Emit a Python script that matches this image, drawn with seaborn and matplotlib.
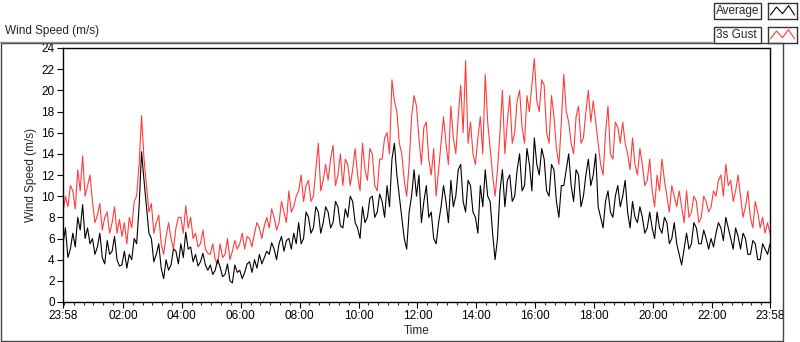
import numpy as np
import pandas as pd
import matplotlib
matplotlib.use("Agg")
import matplotlib.pyplot as plt
import matplotlib.dates as mdates
from matplotlib.patches import Rectangle
import seaborn as sns

# 5-minute readings from 23:58 to 23:58 next day, one row per hour
avg_speed = [
    5.5, 7.0, 4.2, 5.0, 6.5, 5.2, 8.0, 6.8, 9.2, 6.0, 7.0, 5.5,
    6.0, 4.5, 5.2, 6.5, 4.2, 3.6, 5.8, 4.5, 4.8, 6.2, 4.0, 3.4,
    3.5, 4.8, 3.2, 4.5, 4.0, 6.0, 5.5, 9.0, 14.2, 11.5, 9.0, 6.5,
    6.0, 3.8, 4.5, 5.5, 3.2, 2.2, 4.0, 3.0, 3.5, 5.0, 4.8, 3.6,
    5.5, 4.2, 6.6, 5.0, 5.2, 3.8, 4.5, 3.4, 3.8, 4.6, 3.5, 3.0,
    3.5, 2.6, 3.0, 4.0, 3.3, 2.4, 2.6, 3.6, 2.0, 1.8, 3.5, 2.8,
    3.0, 2.2, 2.8, 3.6, 3.8, 2.8, 4.0, 3.2, 4.5, 3.6, 4.2, 4.8,
    4.5, 5.6, 5.0, 4.0, 5.5, 6.2, 4.8, 5.8, 6.0, 5.0, 6.5, 5.5,
    7.5, 5.5, 6.0, 8.5, 8.0, 6.5, 7.0, 9.0, 8.5, 6.5, 7.5, 9.0,
    8.5, 7.0, 7.5, 9.5, 9.0, 7.2, 7.0, 8.8, 8.0, 10.0, 9.5, 7.5,
    7.0, 6.0, 9.0, 7.5, 8.0, 9.8, 10.0, 8.0, 8.5, 10.2, 9.5, 8.0,
    11.0, 9.0, 13.5, 15.0, 12.0, 10.0, 8.0, 6.0, 5.0, 8.5, 10.0, 12.5,
    10.0, 12.0, 7.5, 9.5, 11.0, 8.0, 8.5, 6.0, 5.5, 7.5, 9.0, 11.0,
    9.5, 7.5, 11.5, 9.0, 10.0, 12.5, 13.0, 9.5, 8.5, 11.5, 11.0, 8.5,
    8.0, 6.5, 11.0, 9.0, 12.5, 10.0, 9.5, 6.5, 4.0, 6.0, 10.5, 12.5,
    9.0, 11.5, 12.0, 9.5, 10.0, 12.5, 14.0, 10.5, 11.0, 14.5, 13.0, 10.5,
    15.5, 13.0, 12.0, 14.5, 13.5, 10.5, 10.0, 13.0, 12.5, 9.5, 8.0, 11.0,
    11.0, 12.5, 14.0, 11.0, 9.5, 12.5, 12.0, 9.0, 10.0, 12.0, 13.5, 11.0,
    12.0, 14.0, 9.0, 8.0, 7.0, 9.5, 10.5, 8.5, 8.0, 10.0, 11.0, 9.0,
    10.0, 11.5, 8.5, 7.0, 9.5, 8.0, 7.5, 9.0, 8.0, 6.5, 7.0, 8.5,
    7.0, 6.0, 8.5, 7.0, 6.5, 8.0, 7.5, 5.5, 6.0, 7.5, 5.5, 4.5,
    3.5, 5.0, 6.5, 5.0, 5.5, 7.5, 7.0, 5.5, 5.5, 6.8, 6.0, 5.0,
    6.0, 5.2, 6.5, 7.5, 7.0, 5.8, 8.0, 7.0, 6.0, 5.0, 7.0, 6.2,
    5.0, 6.5, 6.0, 4.5, 4.5, 5.8, 5.5, 4.0, 4.0, 5.5, 5.0, 4.5,
    5.5,
]
gust_speed = [
    8.5, 10.0, 9.0, 11.0, 10.5, 8.8, 12.5, 10.5, 13.8, 10.0, 11.0, 12.0,
    9.5, 7.5, 8.2, 9.3, 6.8, 8.0, 8.5, 6.5, 7.5, 9.0, 6.5, 7.8,
    6.2, 7.5, 5.5, 8.0, 7.0, 9.5, 10.0, 13.0, 17.6, 13.5, 11.0, 8.5,
    9.3, 6.5, 7.5, 8.2, 5.5, 4.5, 6.2, 7.5, 6.0, 5.0, 7.0, 8.0,
    8.0, 6.5, 9.1, 7.0, 8.0, 6.0, 6.5, 5.2, 5.5, 6.8, 5.0, 4.6,
    4.5, 5.5, 4.0, 3.6, 5.5, 4.2, 4.5, 6.0, 4.0, 4.8, 5.8, 5.0,
    5.5, 6.5, 5.0, 6.2, 6.0, 5.2, 6.5, 7.5, 7.0, 6.0, 7.2, 8.0,
    7.0, 8.8, 8.0, 6.8, 7.5, 9.5, 8.5, 7.5, 10.5, 8.5, 9.0, 10.0,
    10.5, 12.0, 9.5, 11.0, 11.5, 9.5, 10.0, 12.5, 15.0, 10.5, 11.5, 13.0,
    11.5, 13.5, 14.8, 11.0, 12.0, 14.0, 11.0, 13.5, 13.0, 11.0, 12.5, 14.5,
    12.0, 10.5, 15.0, 12.5, 11.5, 14.5, 14.0, 11.0, 10.5, 13.5, 13.5, 15.5,
    16.0, 14.0, 21.0, 19.0, 18.0, 15.0, 14.0, 11.5, 10.0, 13.0, 17.5, 19.5,
    18.5, 15.5, 13.0, 16.5, 17.0, 13.5, 12.0, 14.5, 10.0, 12.5, 15.0, 17.5,
    15.0, 13.0, 18.5, 15.5, 14.0, 17.5, 20.5, 16.0, 22.8, 15.0, 17.0, 14.0,
    13.0, 15.5, 17.5, 14.0, 21.5, 17.0, 14.5, 12.0, 10.0, 12.5, 16.0, 20.0,
    14.0, 17.0, 19.5, 15.0, 16.0, 19.0, 20.0, 16.5, 15.0, 19.5, 18.0, 20.5,
    23.0, 19.0, 18.0, 21.0, 20.5, 16.0, 15.0, 19.5, 17.5, 14.5, 13.0, 17.0,
    21.5, 18.0, 17.0, 15.0, 14.0, 17.5, 18.5, 15.0, 15.5, 18.0, 20.0, 17.0,
    19.0, 17.0, 15.0, 13.0, 12.0, 16.0, 18.5, 14.0, 13.5, 17.0, 16.5, 15.0,
    17.0, 15.0, 14.0, 12.5, 15.5, 13.0, 12.0, 14.5, 13.0, 11.0, 11.5, 13.5,
    10.5, 9.0, 12.0, 10.5, 13.5, 11.5, 10.0, 8.5, 11.0, 10.0, 9.0, 10.5,
    9.0, 7.5, 10.5, 8.0, 8.5, 10.0, 9.5, 7.5, 8.0, 10.0, 9.5, 8.5,
    9.0, 10.5, 10.0, 11.5, 12.0, 10.0, 13.0, 11.0, 11.5, 9.5, 10.5, 12.0,
    10.0, 8.0, 9.0, 10.5, 8.0, 7.0, 9.5, 8.5, 7.0, 8.0, 6.5, 7.5,
    6.5,
]
start_time = "2015-06-01 23:58"
tick_times = ["2015-06-01 23:58", "2015-06-02 02:00", "2015-06-02 04:00",
              "2015-06-02 06:00", "2015-06-02 08:00", "2015-06-02 10:00",
              "2015-06-02 12:00", "2015-06-02 14:00", "2015-06-02 16:00",
              "2015-06-02 18:00", "2015-06-02 20:00", "2015-06-02 22:00",
              "2015-06-02 23:58"]
series_names = ["Average", "3s Gust"]
series_colors = ["black", "#ff3b3b"]

df = pd.DataFrame({
    "time": pd.date_range(start_time, periods=len(avg_speed), freq="5min"),
    "avg": avg_speed,
    "gust": gust_speed,
})

sns.set_style("white")
plt.rcParams["font.family"] = ["Liberation Sans", "DejaVu Sans"]

fig = plt.figure(figsize=(8, 3.42), dpi=100)
ax = fig.add_axes([63 / 800, 1 - 302 / 342, 707 / 800, 254 / 342])

sns.lineplot(data=df, x="time", y="gust", color=series_colors[1], lw=0.8, ax=ax)
sns.lineplot(data=df, x="time", y="avg", color=series_colors[0], lw=0.8, ax=ax)

ticks = pd.to_datetime(tick_times)
ax.set_xlim(ticks[0], ticks[-1])
ax.set_ylim(0, 24)
ax.xaxis.set_major_locator(matplotlib.ticker.FixedLocator(mdates.date2num(ticks)))
ax.xaxis.set_major_formatter(mdates.DateFormatter("%H:%M"))
ax.xaxis.set_minor_locator(mdates.MinuteLocator(byminute=[0, 20, 40]))
ax.set_yticks(np.arange(0, 25, 2))
ax.tick_params(axis="both", which="major", direction="out", length=4, width=0.8,
               labelsize=8.5, pad=2, colors="black")
ax.tick_params(axis="x", which="minor", direction="out", length=2.5, width=0.8)
ax.tick_params(bottom=True, left=True, which="both")
ax.set_xlabel("Time", fontsize=8.5, labelpad=2)
ax.set_ylabel("Wind Speed (m/s)", fontsize=8.5, labelpad=3)
for s in ax.spines.values():
    s.set_color("black")
    s.set_linewidth(1)

# outer panel frame and title
fig.add_artist(Rectangle((0.5 / 800, 1.5 / 342), 782 / 800, 298 / 342,
                         transform=fig.transFigure, fill=False, ec="#444444", lw=1))
fig.add_artist(plt.Line2D([0, 712 / 800], [1 - 42 / 342] * 2, transform=fig.transFigure,
                          color="#909090", lw=1))
fig.text(5 / 800, 1 - 31 / 342, "Wind Speed (m/s)", fontsize=8.5, va="center", ha="left")

# LabVIEW style legend
for i, (name, col) in enumerate(zip(series_names, series_colors)):
    ytop = 3 + 24 * i
    fig.add_artist(Rectangle((714 / 800, 1 - (ytop + 16) / 342), 47 / 800, 16 / 342,
                             transform=fig.transFigure, fc="white", ec="#333333", lw=1))
    fig.text(716 / 800, 1 - (ytop + 8) / 342, name, fontsize=8.5, va="center", ha="left")
    lax = fig.add_axes([768 / 800, 1 - (ytop + 16) / 342, 29 / 800, 16 / 342])
    lax.plot([0, 1, 2, 3, 4], [0.2, 0.8, 0.3, 0.9, 0.2], color=col, lw=0.8)
    lax.set_xlim(-0.4, 4.4)
    lax.set_ylim(-0.1, 1.1)
    lax.set_xticks([])
    lax.set_yticks([])
    for s in lax.spines.values():
        s.set_color("#333333")
        s.set_linewidth(1)

fig.savefig("out.png", dpi=100)
